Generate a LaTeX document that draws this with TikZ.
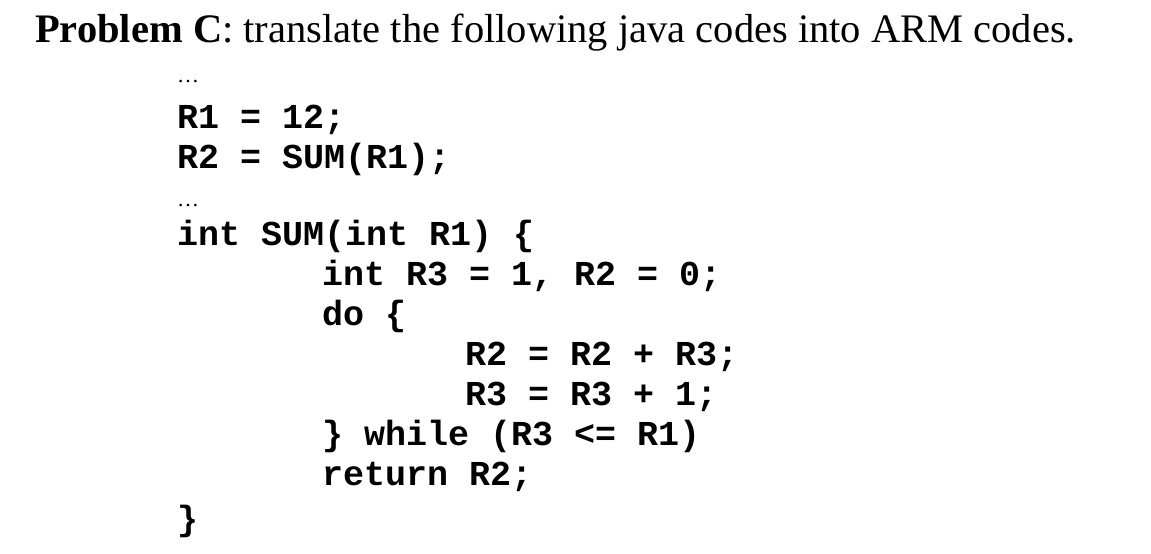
\documentclass[tikz,border=0pt]{standalone}
\usepackage{fontspec}
\setmainfont{Liberation Serif}
\newfontfamily\codefont{Liberation Mono}
\begin{document}
\begin{tikzpicture}[x=1pt,y=-1pt,
  code/.style={anchor=base west,inner sep=0pt,font=\codefont\bfseries\fontsize{35}{35}\selectfont},
  dots/.style={anchor=base west,inner sep=0pt,font=\fontsize{22}{22}\selectfont}]
\useasboundingbox (0,0) rectangle (1151,554);
\node[anchor=base west,inner sep=0pt,font=\fontsize{40.5}{40}\selectfont] (title) at (35,42) {\textbf{Problem C}: translate the following java codes into ARM codes.};
\node[dots] (d1) at (177,82) {\dots};
\node[code] (l1) at (177,128) {R1 = 12;};
\node[code] (l2) at (177,168) {R2 = SUM(R1);};
\node[dots] (d2) at (177,206) {\dots};
\node[code] (l3) at (177,245) {int SUM(int R1) \{};
\node[code] (l4) at (322,285) {int R3 = 1, R2 = 0;};
\node[code] (l5) at (322,325) {do \{};
\node[code] (l6) at (465,365) {R2 = R2 + R3;};
\node[code] (l7) at (465,405) {R3 = R3 + 1;};
\node[code] (l8) at (322,445) {\} while (R3 <= R1)};
\node[code] (l9) at (322,485) {return R2;};
\node[code] (l10) at (177,530) {\}};
\end{tikzpicture}
\end{document}
